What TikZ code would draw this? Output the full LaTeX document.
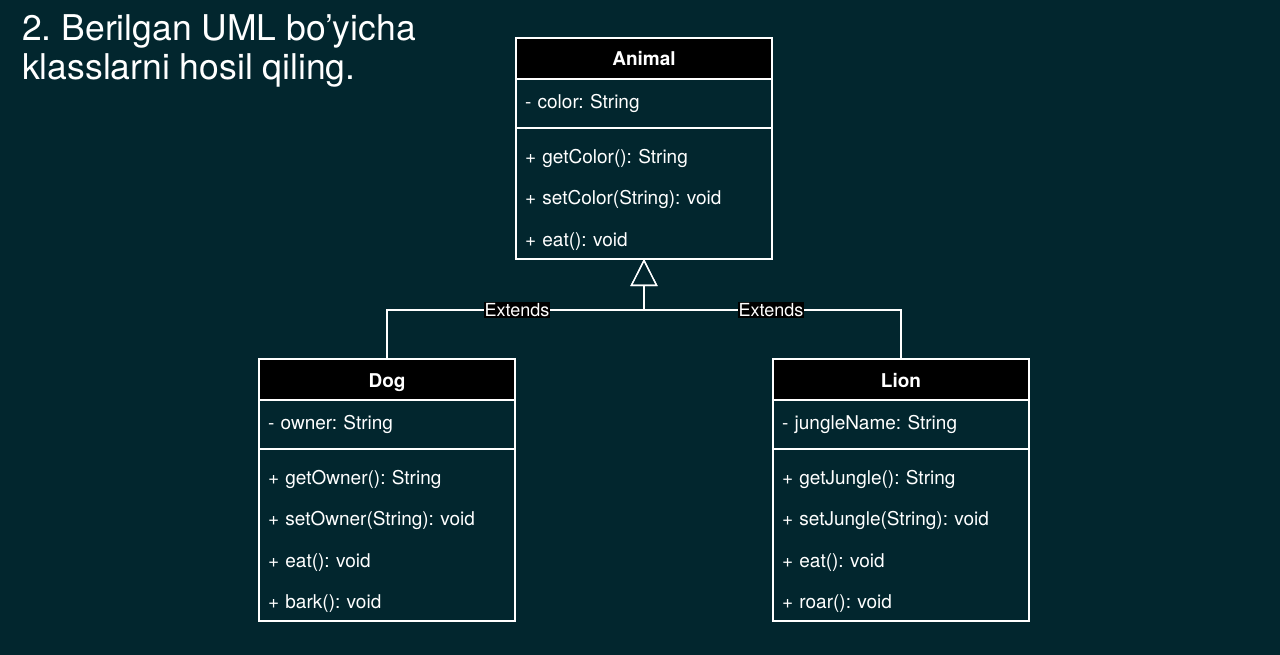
\documentclass[tikz,border=0pt]{standalone}
\usepackage{fontspec}
\setmainfont{TeX Gyre Heros}
\usepackage{tikz}
\usetikzlibrary{arrows.meta,positioning}
\frenchspacing

\definecolor{slidebg}{RGB}{2,38,46}

\tikzset{
	uml/.style={draw=white,line width=1.3pt,text=white,minimum width=256pt,inner sep=0pt,outer sep=0pt},
	header/.style={uml,fill=black,minimum height=41pt,text height=15pt,text depth=0pt,
		font=\fontsize{19}{23}\selectfont\bfseries},
	attrbox/.style={uml,minimum height=49pt,text width=238pt,inner xsep=9pt,align=left,
		font=\fontsize{19}{23}\selectfont},
	opbox/.style={uml,text width=238pt,inner xsep=9pt,align=left,
		execute at begin node={\rule{0pt}{27pt}},font=\fontsize{19}{41.6}\selectfont},
	extlabel/.style={fill=black,text=white,inner sep=1pt,font=\fontsize{18}{20}\selectfont},
	inherit/.style={white,line width=1.3pt,-{Triangle[open,length=27pt,width=27pt,line width=1.3pt]}}
}

\begin{document}
\begin{tikzpicture}[x=1pt,y=1pt]
	\fill[slidebg] (0,0) rectangle (1280,-655);
	\useasboundingbox (0,0) rectangle (1280,-655);

	\node[anchor=north west,inner sep=0pt,text=white,align=left,
		font=\fontsize{35.5}{39}\selectfont] (title) at (22,-14)
		{2. Berilgan UML bo’yicha\\klasslarni hosil qiling.};

	% Animal
	\node[header] (animal) at (644,-58.5) {Animal};
	\node[attrbox,below=0pt of animal] (animalattr) {- color: String};
	\node[opbox,minimum height=131pt,below=0pt of animalattr] (animalops)
		{+ getColor(): String\\+ setColor(String): void\\+ eat(): void};

	% Dog
	\node[header] (dog) at (387,-379.5) {Dog};
	\node[attrbox,below=0pt of dog] (dogattr) {- owner: String};
	\node[opbox,minimum height=172pt,below=0pt of dogattr] (dogops)
		{+ getOwner(): String\\+ setOwner(String): void\\+ eat(): void\\+ bark(): void};

	% Lion
	\node[header] (lion) at (901,-379.5) {Lion};
	\node[attrbox,below=0pt of lion] (lionattr) {- jungleName: String};
	\node[opbox,minimum height=172pt,below=0pt of lionattr] (lionops)
		{+ getJungle(): String\\+ setJungle(String): void\\+ eat(): void\\+ roar(): void};

	\coordinate (join) at (644,-310);
	\draw[inherit] (dog.north) |- (join) node[extlabel,pos=0.753] (dogext) {Extends}
		-- (animalops.south);
	\draw[inherit] (lion.north) |- (join) node[extlabel,pos=0.753] (lionext) {Extends}
		-- (animalops.south);
\end{tikzpicture}
\end{document}
